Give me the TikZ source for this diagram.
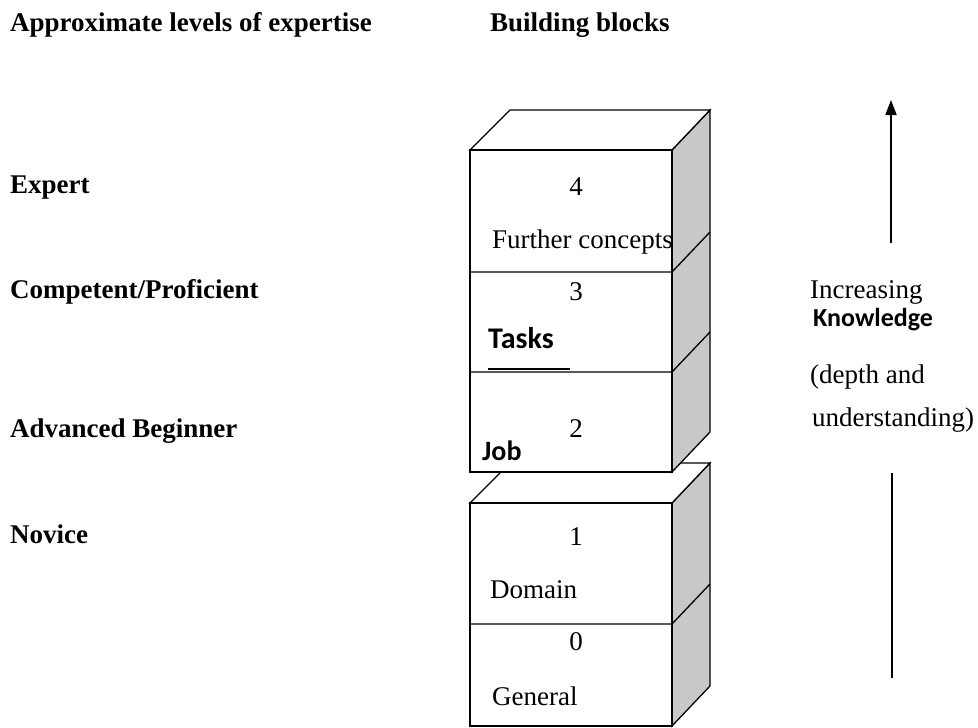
\documentclass[tikz,border=0pt]{standalone}
\usepackage{fontspec}
\setmainfont{Liberation Serif}
\newfontfamily\boldsans{Carlito}
\usetikzlibrary{arrows.meta}
\definecolor{sidegray}{RGB}{200,200,200}

\begin{document}
\begin{tikzpicture}[x=1pt, y=-1pt,
    levellabel/.style={font=\fontsize{27}{32}\selectfont\bfseries, anchor=base west, inner sep=0pt},
    blocktext/.style={font=\fontsize{27}{32}\selectfont, anchor=base west, inner sep=0pt},
    blocknum/.style={font=\fontsize{27}{32}\selectfont, anchor=base, inner sep=0pt},
    addedtext/.style={font=\boldsans\fontsize{28}{32}\selectfont\bfseries, anchor=base west, inner sep=0pt},
    blockline/.style={line width=1.3pt},
    blockside/.style={blockline, fill=sidegray},
    blocktop/.style={blockline, fill=white}]
    \useasboundingbox (0,0) rectangle (978,728);

    % Headings
    \node[levellabel] (levels) at (10,31) {Approximate levels of expertise};
    \node[levellabel] (blocks) at (490,31) {Building blocks};

    % Levels of expertise
    \node[levellabel] (expert) at (10,193) {Expert};
    \node[levellabel] (competent) at (10,298) {Competent/Proficient};
    \node[levellabel] (advanced) at (10,437) {Advanced Beginner};
    \node[levellabel] (novice) at (10,543) {Novice};

    % Lower stack: blocks 1 and 0
    \filldraw[blockside] (672,503) -- (710,463) -- (710,686) -- (672,726) -- cycle;
    \filldraw[blocktop] (470,503) -- (510,463) -- (710,463) -- (672,503) -- cycle;
    \filldraw[blocktop] (470,503) rectangle (672,726);
    \draw[blockline] (470,624) -- (672,624) -- (710,584);

    % Upper stack: blocks 4, 3 and 2
    \filldraw[blockside] (672,150) -- (710,110) -- (710,432) -- (672,472) -- cycle;
    \filldraw[blocktop] (470,150) -- (510,110) -- (710,110) -- (672,150) -- cycle;
    \filldraw[blocktop] (470,150) rectangle (672,472);
    \draw[blockline] (470,272) -- (672,272) -- (710,232);
    \draw[blockline] (470,372) -- (672,372) -- (710,332);

    % Block texts
    \node[blocknum] (num4) at (576,195) {4};
    \node[blocktext] (further) at (492,248) {Further concepts};
    \node[blocknum] (num3) at (576,300) {3};
    \node[addedtext, font=\boldsans\fontsize{30}{34}\selectfont\bfseries] (tasks) at (488,348) {Tasks};
    \draw[line width=2pt] (488,369) -- (570,369);
    \node[blocknum] (num2) at (576,437) {2};
    \node[addedtext] (job) at (482,460) {Job};
    \node[blocknum] (num1) at (576,545) {1};
    \node[blocktext] (domain) at (490,598) {Domain};
    \node[blocknum] (num0) at (576,650) {0};
    \node[blocktext] (general) at (492,705) {General};

    % Increasing knowledge
    \coordinate (arrowfoot) at (891,243);
    \coordinate (arrowtip) at (891,100);
    \draw[line width=1.8pt, -{Triangle[length=15pt, width=11pt]}] (arrowfoot) -- (arrowtip);
    \node[blocktext] (increasing) at (810,298) {Increasing};
    \node[addedtext, font=\boldsans\fontsize{26}{30}\selectfont\bfseries] (knowledge) at (813,326) {Knowledge};
    \node[blocktext] (depth) at (810,383) {(depth and};
    \node[blocktext] (understanding) at (812,426) {understanding)};
    \coordinate (linetop) at (892,473);
    \coordinate (linebottom) at (892,678);
    \draw[line width=1.4pt] (linetop) -- (linebottom);
\end{tikzpicture}
\end{document}
